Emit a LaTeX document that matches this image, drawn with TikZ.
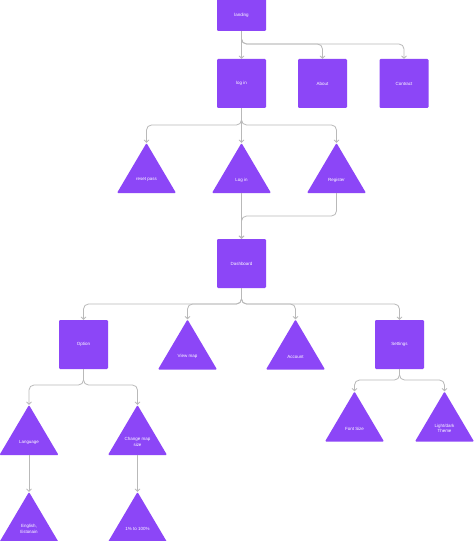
\documentclass[tikz,border=0pt]{standalone}
\usepackage{fontspec}
\setmainfont{Liberation Sans}
\usetikzlibrary{arrows.meta}
\definecolor{boxpurple}{RGB}{140,70,247}
\definecolor{linegray}{RGB}{185,185,185}
\tikzset{
  sq/.style={draw=none, fill=boxpurple, rounded corners=1.2bp, minimum width=49bp, minimum height=49bp, inner sep=0pt, text=white, font=\fontsize{4.5}{5.5}\selectfont, align=center},
  tri/.style={minimum width=59bp, minimum height=50bp, inner sep=0pt,
    path picture={\fill[boxpurple, rounded corners=1bp] (path picture bounding box.south west) -- (path picture bounding box.north) -- (path picture bounding box.south east) -- cycle;}},
  tlab/.style={text=white, font=\fontsize{4.5}{5.5}\selectfont, align=center, yshift=-12bp, inner sep=0pt},
  conn/.style={draw=linegray, line width=0.8bp, rounded corners=5bp, -{Straight Barb[length=2.4bp,width=5bp]}}
}
\begin{document}
\begin{tikzpicture}[x=1bp,y=-1bp]
\useasboundingbox (0,0) rectangle (474,541);
\clip (0,0) rectangle (474,541);
\fill[white] (0,0) rectangle (474,541);
% squares
\node[sq, label={[tlab, yshift=3bp]center:landing}] (landing) at (241.5,6.5) {};
\node[sq] (login) at (241.5,83.5) {log in};
\node[sq] (about) at (322.5,83.5) {About};
\node[sq] (contract) at (404,83.5) {Contract};
\node[sq] (dashboard) at (241.5,263.5) {Dashboard};
\node[sq] (option) at (83.5,344.5) {Option};
\node[sq] (settings) at (399.5,344.5) {Settings};
% triangles
\node[tri, label={[tlab]center:reset pass}] (reset) at (146.5,168) {};
\node[tri, label={[tlab]center:Log in}] (logtri) at (241.5,168) {};
\node[tri, label={[tlab]center:Register}] (register) at (336.5,168) {};
\node[tri, label={[tlab]center:View map}] (viewmap) at (187.5,344.5) {};
\node[tri, label={[tlab]center:Account}] (account) at (295.5,344.5) {};
\node[tri, label={[tlab]center:Language}] (language) at (29,430) {};
\node[tri, label={[tlab]center:Change map\\size}] (changemap) at (137.5,430) {};
\node[tri, label={[tlab]center:English,\\Estonain}] (english) at (29,517) {};
\node[tri, label={[tlab]center:1\% to 100\%}] (onepct) at (137.5,517) {};
\node[tri, label={[tlab]center:Font Size}] (fontsize) at (354.5,416.5) {};
\node[tri, label={[tlab]center:Light/dark\\Theme}] (lightdark) at (444.5,416.5) {};
% branch levels
\coordinate (j1) at (0,44);
\coordinate (j2) at (0,125);
\coordinate (j3) at (0,216);
\coordinate (j4) at (0,304);
\coordinate (j5) at (0,385);
\coordinate (j6) at (0,380);
% connectors
\draw[conn] (landing.south) -- (login.north);
\draw[conn] (landing.south) -- (landing.south |- j1) -| (about.north);
\draw[conn] (landing.south) -- (landing.south |- j1) -| (contract.north);
\draw[conn] (login.south) -- (logtri.north);
\draw[conn] (login.south) -- (login.south |- j2) -| (reset.north);
\draw[conn] (login.south) -- (login.south |- j2) -| (register.north);
\draw[conn] (logtri.south) -- (dashboard.north);
\draw[conn] (register.south) -- (register.south |- j3) -| (dashboard.north);
\draw[conn] (dashboard.south) -- (dashboard.south |- j4) -| (option.north);
\draw[conn] (dashboard.south) -- (dashboard.south |- j4) -| (viewmap.north);
\draw[conn] (dashboard.south) -- (dashboard.south |- j4) -| (account.north);
\draw[conn] (dashboard.south) -- (dashboard.south |- j4) -| (settings.north);
\draw[conn] (option.south) -- (option.south |- j5) -| (language.north);
\draw[conn] (option.south) -- (option.south |- j5) -| (changemap.north);
\draw[conn] (language.south) -- (english.north);
\draw[conn] (changemap.south) -- (onepct.north);
\draw[conn] (settings.south) -- (settings.south |- j6) -| (fontsize.north);
\draw[conn] (settings.south) -- (settings.south |- j6) -| (lightdark.north);
\end{tikzpicture}
\end{document}
